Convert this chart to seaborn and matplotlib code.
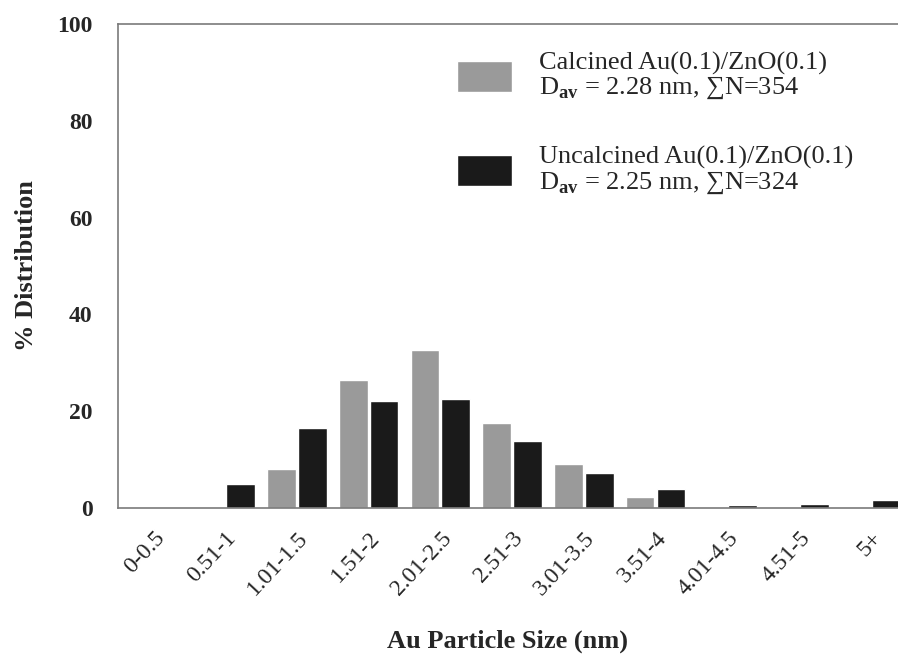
import pandas as pd
import matplotlib
matplotlib.use("Agg")
import matplotlib.pyplot as plt
import seaborn as sns

# particle size bins and % distribution
size_bins = ["0-0.5", "0.51-1", "1.01-1.5", "1.51-2", "2.01-2.5", "2.51-3",
             "3.01-3.5", "3.51-4", "4.01-4.5", "4.51-5", "5+"]
calcined = [0, 0, 8.0, 26.4, 32.6, 17.6, 9.0, 2.3, 0.2, 0, 0]
uncalcined = [0, 4.9, 16.5, 22.2, 22.6, 13.8, 7.2, 3.9, 0.6, 0.9, 1.6]
series_names = [
    "Calcined Au(0.1)/ZnO(0.1)\nD$_{\\mathbf{av}}$ = 2.28 nm, \u2211N=354",
    "Uncalcined Au(0.1)/ZnO(0.1)\nD$_{\\mathbf{av}}$ = 2.25 nm, \u2211N=324",
]
y_ticks = [0, 20, 40, 60, 80, 100]

df = pd.DataFrame({
    "size": size_bins * 2,
    "pct": calcined + uncalcined,
    "sample": [series_names[0]] * len(size_bins) + [series_names[1]] * len(size_bins),
})

sns.set_style("white")
plt.rcParams["font.family"] = ["Liberation Serif", "DejaVu Serif"]
plt.rcParams["mathtext.fontset"] = "custom"
plt.rcParams["mathtext.rm"] = "Liberation Serif"
plt.rcParams["mathtext.bf"] = "Liberation Serif:bold"

fig = plt.figure(figsize=(8.98, 6.58), dpi=100)
ax = fig.add_axes([0.131, 0.228, 0.869, 0.7355])

sns.barplot(data=df, x="size", y="pct", hue="sample", order=size_bins,
            palette=["#9a9a9a", "#1a1a1a"], width=0.86, gap=0.07,
            saturation=1, ax=ax)

ax.set_xlim(-0.5, 10.38)
ax.set_ylim(0, 100)
ax.set_yticks(y_ticks)
ax.set_yticklabels([str(v) for v in y_ticks], fontsize=17, fontweight="bold")
ax.set_xticks(range(len(size_bins)))
ax.set_xticklabels(size_bins, rotation=47, ha="right", rotation_mode="anchor",
                   fontsize=17)
ax.tick_params(axis="y", direction="out", length=5, color="#777777", pad=13)
ax.tick_params(axis="x", length=0, pad=14)

for side in ["left", "bottom", "top"]:
    ax.spines[side].set_visible(True)
    ax.spines[side].set_color("#7a7a7a")
    ax.spines[side].set_linewidth(1.2)
ax.spines["right"].set_visible(False)

ax.set_ylabel("% Distribution", fontsize=19, fontweight="bold", labelpad=14)
ax.set_xlabel("Au Particle Size (nm)", fontsize=19, fontweight="bold", labelpad=22)

leg = ax.legend(loc="upper left", bbox_to_anchor=(457 / 898, 1 - 52 / 658),
                bbox_transform=fig.transFigure, frameon=False, borderpad=0,
                borderaxespad=0, fontsize=19, handlelength=2.1,
                handleheight=1.45, labelspacing=1.7, handletextpad=1.0)
for t in leg.get_texts():
    t.set_linespacing(1.0)

fig.savefig("out.png", dpi=100)
